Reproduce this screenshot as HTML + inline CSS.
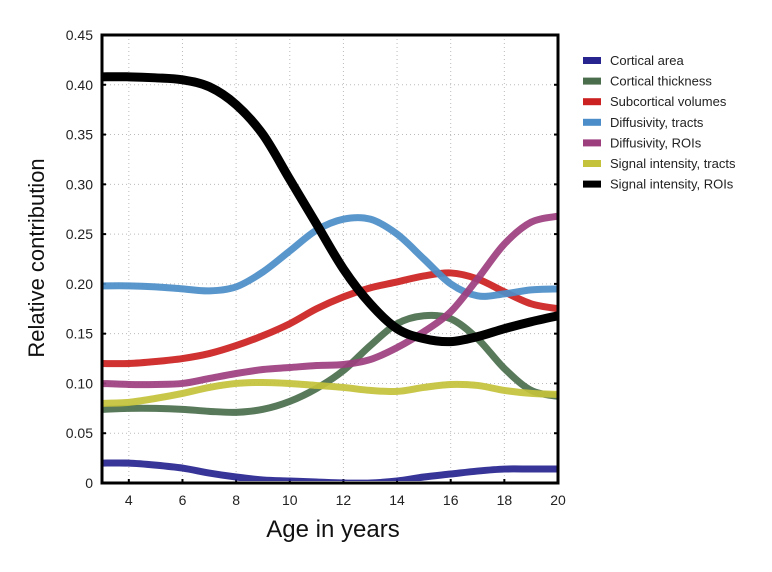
<!DOCTYPE html>
<html><head><meta charset="utf-8"><style>
body{margin:0;background:#fff;width:772px;height:567px;overflow:hidden;font-family:"Liberation Sans",sans-serif}
</style></head><body>
<svg id="chart" width="772" height="567" xmlns="http://www.w3.org/2000/svg"></svg>
<script>
const ages=[3,4,5,6,7,8,9,10,11,12,13,14,15,16,17,18,19,20];
const seriesNames=["Cortical area","Cortical thickness","Subcortical volumes","Diffusivity, tracts","Diffusivity, ROIs","Signal intensity, tracts","Signal intensity, ROIs"];
const seriesColors=["#27248f","#4a6e4c","#cc2121","#4b8dc8","#9c3e7e","#c4c23a","#000000"];
const corticalArea=[.02,.02,.018,.015,.01,.006,.003,.002,.001,0,0,.002,.006,.009,.012,.014,.014,.014];
const corticalThickness=[.074,.075,.075,.074,.072,.071,.074,.082,.095,.113,.138,.16,.168,.165,.145,.115,.093,.087];
const subcortical=[.12,.12,.122,.125,.13,.138,.148,.16,.175,.187,.196,.202,.208,.211,.205,.192,.18,.175];
const diffTracts=[.198,.198,.197,.195,.193,.197,.212,.233,.254,.265,.265,.25,.225,.2,.188,.19,.194,.195];
const diffROIs=[.1,.099,.099,.1,.105,.11,.114,.116,.118,.119,.124,.136,.152,.172,.205,.24,.262,.268];
const sigTracts=[.08,.081,.085,.09,.096,.1,.101,.1,.098,.096,.093,.092,.096,.099,.098,.093,.09,.089];
const sigROIs=[.408,.408,.407,.405,.398,.38,.35,.305,.26,.215,.18,.155,.145,.142,.147,.155,.162,.168];
const allSeries=[corticalArea,corticalThickness,subcortical,diffTracts,diffROIs,sigTracts,sigROIs];
const xTicks=[4,6,8,10,12,14,16,18,20];
const yTicks=[0,0.05,0.1,0.15,0.2,0.25,0.3,0.35,0.4,0.45];
const yTickLabels=["0","0.05","0.10","0.15","0.20","0.25","0.30","0.35","0.40","0.45"];

const L=102,R=558,T=35,B=483;
const xs=v=>L+(v-3)/(20-3)*(R-L);
const ys=v=>B-v/0.45*(B-T);
const svg=document.getElementById('chart');
const NS="http://www.w3.org/2000/svg";
function mk(tag,attrs,parent){const e=document.createElementNS(NS,tag);for(const k in attrs)e.setAttribute(k,attrs[k]);(parent||svg).appendChild(e);return e;}

xTicks.forEach(t=>{const g=mk('line',{x1:xs(t),x2:xs(t),y1:T,y2:B,stroke:'#bbb','stroke-dasharray':'1,3','stroke-width':1});


const tk=mk('line',{x1:xs(t),x2:xs(t),y1:B-4,y2:B,stroke:'#000','stroke-width':2});


const tx=mk('text',{x:xs(t),y:B+22,'text-anchor':'middle','font-size':14,fill:'#222'});tx.textContent=t;

});
yTicks.forEach((t,i)=>{const g=mk('line',{x1:L,x2:R,y1:ys(t),y2:ys(t),stroke:'#bbb','stroke-dasharray':'1,3','stroke-width':1});


const tk=mk('line',{x1:L,x2:L+4,y1:ys(t),y2:ys(t),stroke:'#000','stroke-width':2});


const tk2=mk('line',{x1:R-4,x2:R,y1:ys(t),y2:ys(t),stroke:'#000','stroke-width':2});


const tx=mk('text',{x:L-9,y:ys(t)+5,'text-anchor':'end','font-size':14,fill:'#222'});tx.textContent=yTickLabels[i];

});

function pathFor(vals){
  const p=ages.map((a,i)=>[xs(a),ys(vals[i])]);
  let d=`M${p[0][0]},${p[0][1]}`;
  for(let i=0;i<p.length-1;i++){
    const p0=p[Math.max(0,i-1)],p1=p[i],p2=p[i+1],p3=p[Math.min(p.length-1,i+2)];
    const c1=[p1[0]+(p2[0]-p0[0])/6,p1[1]+(p2[1]-p0[1])/6];
    const c2=[p2[0]-(p3[0]-p1[0])/6,p2[1]-(p3[1]-p1[1])/6];
    d+=` C${c1[0]},${c1[1]} ${c2[0]},${c2[1]} ${p2[0]},${p2[1]}`;
  }
  return d;
}
const clip=mk('clipPath',{id:'pc'});mk('rect',{x:L,y:T-10,width:R-L,height:B-T+8},clip);
allSeries.forEach((vals,i)=>{
  const w=i===6?9:7;
  const ln=mk('path',{d:pathFor(vals),fill:'none',stroke:seriesColors[i],'stroke-width':w,'stroke-linecap':'butt','clip-path':'url(#pc)','stroke-opacity':i===6?1:0.92});
  
  
});
const fr=mk('rect',{x:L,y:T,width:R-L,height:B-T,fill:'none',stroke:'#000','stroke-width':3});



const xt=mk('text',{x:333,y:537,'text-anchor':'middle','font-size':24,fill:'#111'});xt.textContent='Age in years';


const yt=mk('text',{x:0,y:0,'text-anchor':'middle','font-size':22,fill:'#111',transform:'translate(44,258) rotate(-90)'});yt.textContent='Relative contribution';



seriesNames.forEach((n,i)=>{
  const y=60+i*20.6;
  const g=mk('g',{});
  
  
  mk('rect',{x:583,y:y-3,width:18,height:7,fill:seriesColors[i]},g);
  const t=mk('text',{x:610,y:y+5,'font-size':13,fill:'#222'},g);t.textContent=n;
});
</script>
</body></html>
